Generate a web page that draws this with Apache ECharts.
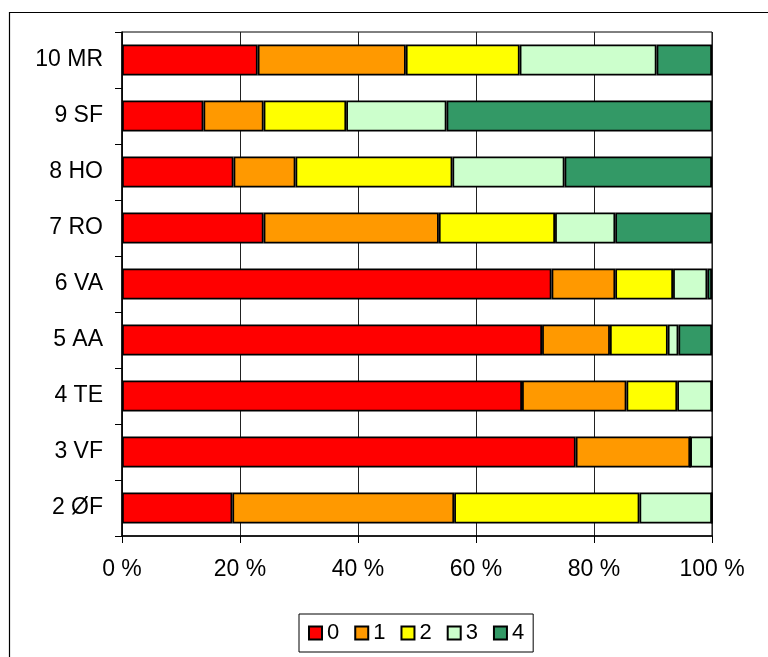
<!DOCTYPE html>
<html>
<head>
<meta charset="utf-8">
<script src="https://cdn.jsdelivr.net/npm/echarts@6/dist/echarts.min.js"></script>
<style>
html,body{margin:0;padding:0;background:#fff;}
#chart{width:768px;height:657px;}
</style>
</head>
<body>
<div id="chart"></div>
<script>
var categories = ['2 ØF','3 VF','4 TE','5 AA','6 VA','7 RO','8 HO','9 SF','10 MR'];
var seriesNames = ['0','1','2','3','4'];
var s0 = [18.7, 76.9, 67.8, 71.2, 72.8, 24.0, 18.9, 13.8, 23.0];
var s1 = [37.6, 19.4, 17.7, 11.5, 10.8, 29.7, 10.5, 10.2, 25.1];
var s2 = [31.4, 0, 8.6, 9.8, 9.8, 19.7, 26.6, 14.0, 19.3];
var s3 = [12.3, 3.7, 5.9, 1.8, 5.8, 10.2, 19.0, 17.0, 23.2];
var s4 = [0, 0, 0, 5.7, 0.8, 16.4, 25.0, 45.0, 9.4];
var xTicks = [0, 20, 40, 60, 80, 100];
var colors = ['#FF0000', '#FF9900', '#FFFF00', '#CCFFCC', '#339966'];

var seriesValues = [s0, s1, s2, s3, s4];
var font = "'Liberation Sans', Arial, sans-serif";

var chart = echarts.init(document.getElementById('chart'), null, {renderer: 'canvas'});
var series = seriesValues.map(function (vals, i) {
  return {
    name: seriesNames[i],
    type: 'bar',
    stack: 'total',
    barWidth: 31,
    data: vals,
    itemStyle: {color: colors[i], borderColor: '#000', borderWidth: 1.8},
    emphasis: {disabled: true},
    animation: false
  };
});

chart.setOption({
  animation: false,
  backgroundColor: '#fff',
  graphic: [{
    type: 'rect',
    shape: {x: 9.5, y: 12.5, width: 800, height: 700},
    style: {fill: 'none', stroke: '#000', lineWidth: 1.2},
    silent: true,
    z: -10
  }],
  grid: {
    left: 122, top: 32, width: 590, height: 504,
    show: true, borderColor: '#000', borderWidth: 1
  },
  xAxis: {
    type: 'value',
    min: xTicks[0], max: xTicks[xTicks.length - 1], interval: xTicks[1] - xTicks[0],
    axisLine: {show: true, lineStyle: {color: '#000', width: 1.5}},
    axisTick: {show: true, length: 7, lineStyle: {color: '#000'}},
    splitLine: {show: true, lineStyle: {color: '#222', width: 1}},
    axisLabel: {
      margin: 22, fontSize: 23, fontFamily: font, color: '#000',
      formatter: function (v) { return v + ' %'; }
    }
  },
  yAxis: {
    type: 'category',
    data: categories,
    axisLine: {show: true, lineStyle: {color: '#000', width: 1.5}},
    axisTick: {show: true, length: 7, inside: false, lineStyle: {color: '#000'}},
    axisLabel: {margin: 19, fontSize: 23, fontFamily: font, color: '#000'}
  },
  legend: {
    data: seriesNames,
    left: 299, top: 614,
    orient: 'horizontal',
    itemWidth: 13, itemHeight: 13, itemGap: 15,
    padding: [8, 9, 8, 9],
    borderColor: '#000', borderWidth: 1,
    icon: 'rect',
    selectedMode: false,
    textStyle: {fontSize: 22, fontFamily: font, color: '#000'}
  },
  series: series
});
</script>
</body>
</html>
